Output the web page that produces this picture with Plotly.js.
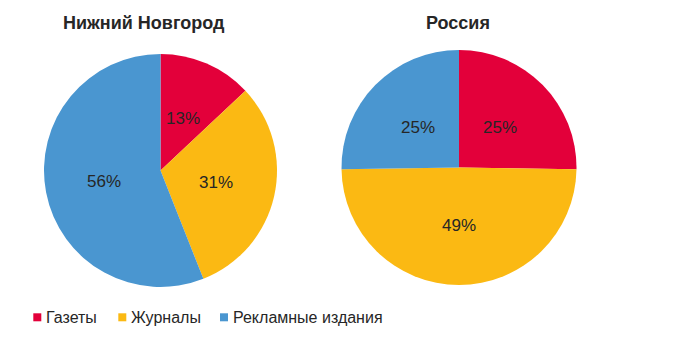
<!DOCTYPE html>
<html>
<head>
<meta charset="utf-8">
<script src="https://cdn.plot.ly/plotly-3.0.1.min.js"></script>
<style>html,body{margin:0;padding:0;background:#fff}#chart{width:700px;height:337px}</style>
</head>
<body>
<div id="chart"></div>
<script>
const categories = ["Газеты", "Журналы", "Рекламные издания"];
const valuesNN = [13, 31, 56];
const valuesRU = [25, 49, 25];
const titles = ["Нижний Новгород", "Россия"];
const colors = ["#E3003A", "#FBB913", "#4A96D0"];

const W = 700, H = 337;
const font = "Liberation Sans, Arial, sans-serif";
const textColor = "#262626";

// pie placement (pixels): centre x, centre y, radius
const pies = [
  {values: valuesNN, title: titles[0], cx: 160.5, cy: 170.5, r: 116.5, titleX: 143.5},
  {values: valuesRU, title: titles[1], cx: 459, cy: 167.5, r: 117.5, titleX: 458}
];

const data = [];
const annotations = [];
const shapes = [];

pies.forEach((p, i) => {
  data.push({
    type: "pie",
    labels: categories,
    values: p.values,
    name: p.title,
    sort: false,
    direction: "clockwise",
    rotation: 0,
    marker: {colors: colors, line: {width: 0}},
    textinfo: "none",
    hoverinfo: "label+value",
    showlegend: false,
    domain: {
      x: [(p.cx - p.r) / W, (p.cx + p.r) / W],
      y: [1 - (p.cy + p.r) / H, 1 - (p.cy - p.r) / H]
    }
  });
  // data labels at half radius, mid-angle of each slice
  const total = p.values.reduce((a, b) => a + b, 0);
  let cum = 0;
  p.values.forEach(v => {
    const mid = (cum + v / 2) / total * 2 * Math.PI;
    cum += v;
    const rr = 0.49 * p.r;
    const px = p.cx + rr * Math.sin(mid);
    const py = p.cy - rr * Math.cos(mid);
    annotations.push({
      text: v + "%", x: px / W, y: 1 - py / H, xref: "paper", yref: "paper",
      showarrow: false, xanchor: "center", yanchor: "middle",
      font: {family: font, size: 17, color: textColor}
    });
  });
  // title
  annotations.push({
    text: "<b>" + p.title + "</b>", x: p.titleX / W, y: 1 - 22.5 / H, xref: "paper", yref: "paper",
    showarrow: false, xanchor: "center", yanchor: "middle",
    font: {family: font, size: 18, color: textColor}
  });
});

// legend
const legendX = [33.3, 118.3, 220];
const legendY = 317.3;
categories.forEach((c, i) => {
  shapes.push({
    type: "rect", xref: "paper", yref: "paper",
    x0: legendX[i] / W, x1: (legendX[i] + 8) / W,
    y0: 1 - (legendY + 4) / H, y1: 1 - (legendY - 4) / H,
    fillcolor: colors[i], line: {width: 0}
  });
  annotations.push({
    text: c, x: (legendX[i] + 11) / W, y: 1 - (legendY + 0.5) / H, xref: "paper", yref: "paper",
    showarrow: false, xanchor: "left", yanchor: "middle",
    font: {family: font, size: 16, color: textColor}
  });
});

const layout = {
  width: W, height: H,
  margin: {l: 0, r: 0, t: 0, b: 0},
  paper_bgcolor: "#fff",
  showlegend: false,
  annotations: annotations,
  shapes: shapes
};
Plotly.newPlot("chart", data, layout, {displayModeBar: false, staticPlot: true});
</script>
</body>
</html>
